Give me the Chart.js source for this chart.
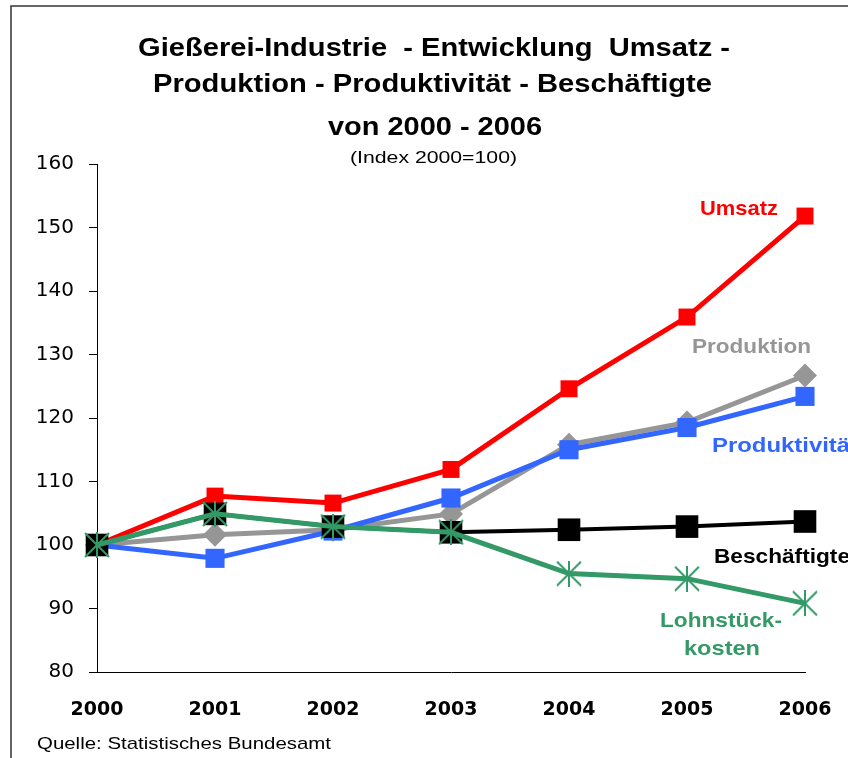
<!DOCTYPE html>
<html>
<head>
<meta charset="utf-8">
<script src="https://cdn.jsdelivr.net/npm/chart.js@4.4.1/dist/chart.umd.min.js"></script>
<style>
  body { margin: 0; background: #fff; }
  canvas { display: block; }
</style>
</head>
<body>
<canvas id="myChart" width="848" height="758"></canvas>
<script>
// data (Index 2000 = 100)
const years = ['2000', '2001', '2002', '2003', '2004', '2005', '2006'];
const umsatz = [100, 107.7, 106.6, 111.9, 124.6, 135.9, 151.8];
const produktion = [100, 101.6, 102.4, 104.9, 115.8, 119.3, 126.7];
const produktivitaet = [100, 97.9, 102.2, 107.4, 115.0, 118.5, 123.4];
const beschaeftigte = [100, 104.9, 102.9, 102.0, 102.4, 102.9, 103.7];
const lohnstueckkosten = [100, 104.9, 102.9, 102.0, 95.5, 94.7, 90.8];
const yMin = 80, yMax = 160, yStep = 10;

const titleLines = [
  'Gießerei-Industrie  - Entwicklung  Umsatz -',
  'Produktion - Produktivität - Beschäftigte',
  'von 2000 - 2006'
];
const subTitle = '(Index 2000=100)';
const source = 'Quelle: Statistisches Bundesamt';

// green asterisk marker
const star = document.createElement('canvas');
star.width = 26; star.height = 26;
const sctx = star.getContext('2d');
sctx.strokeStyle = '#339966';
sctx.lineWidth = 2;
sctx.beginPath();
sctx.moveTo(1, 1); sctx.lineTo(25, 25);
sctx.moveTo(25, 1); sctx.lineTo(1, 25);
sctx.moveTo(13, 0); sctx.lineTo(13, 26);
sctx.stroke();

// draw text squeezed/stretched to a given width
const fitText = (ctx, text, x, y, font, color, width, align) => {
  ctx.save();
  ctx.font = font;
  ctx.fillStyle = color;
  ctx.textBaseline = 'alphabetic';
  ctx.textAlign = 'left';
  let w = ctx.measureText(text).width;
  let sx = width ? width / w : 1;
  let left = align === 'center' ? x - w * sx / 2 : x;
  ctx.translate(left, y);
  ctx.scale(sx, 1);
  ctx.fillText(text, 0, 0);
  ctx.restore();
};

const textPlugin = {
  id: 'texts',
  beforeDraw: (chart) => {
    const ctx = chart.ctx;
    ctx.save();
    ctx.fillStyle = '#fff';
    ctx.fillRect(0, 0, chart.width, chart.height);
    // frame
    ctx.strokeStyle = '#333';
    ctx.lineWidth = 1.5;
    ctx.beginPath();
    ctx.moveTo(11, chart.height);
    ctx.lineTo(11, 6);
    ctx.lineTo(chart.width + 2, 6);
    ctx.stroke();
    ctx.restore();
  },
  afterDraw: (chart) => {
    const ctx = chart.ctx;
    const F = '"Liberation Sans", Arial, sans-serif';
    fitText(ctx, titleLines[0], 434, 56, 'bold 26px ' + F, '#000', 592, 'center');
    fitText(ctx, titleLines[1], 432.5, 92, 'bold 26px ' + F, '#000', 559, 'center');
    fitText(ctx, titleLines[2], 435, 135, 'bold 25px ' + F, '#000', 214, 'center');
    fitText(ctx, subTitle, 433.5, 163, '17px ' + F, '#000', 167, 'center');
    fitText(ctx, source, 37, 749, '17px ' + F, '#000', 294, 'left');

    // series labels
    fitText(ctx, 'Umsatz', 700, 215, 'bold 21px ' + F, '#ff0000', 78, 'left');
    fitText(ctx, 'Produktion', 692, 353, 'bold 21px ' + F, '#969696', 119, 'left');
    fitText(ctx, 'Produktivität', 712, 452, 'bold 21px ' + F, '#3366ff', 146, 'left');
    fitText(ctx, 'Beschäftigte', 714, 563, 'bold 21px ' + F, '#000', 136, 'left');
    fitText(ctx, 'Lohnstück-', 660, 627, 'bold 21px ' + F, '#339966', 122, 'left');
    fitText(ctx, 'kosten', 684, 655, 'bold 21px ' + F, '#339966', 76, 'left');
  }
};

const ctx = document.getElementById('myChart').getContext('2d');
const myChart = new Chart(ctx, {
  type: 'line',
  data: {
    labels: years,
    datasets: [
      {
        label: 'Lohnstückkosten',
        data: lohnstueckkosten,
        borderColor: '#339966',
        borderWidth: 5,
        pointStyle: star,
        clip: false
      },
      {
        label: 'Beschäftigte',
        data: beschaeftigte,
        borderColor: '#000',
        backgroundColor: '#000',
        borderWidth: 4,
        pointStyle: 'rect',
        pointRadius: 16,
        pointBorderWidth: 0,
        clip: false
      },
      {
        label: 'Umsatz',
        data: umsatz,
        borderColor: '#ff0000',
        backgroundColor: '#ff0000',
        borderWidth: 5,
        pointStyle: 'rect',
        pointRadius: 12,
        pointBorderWidth: 0,
        clip: false
      },
      {
        label: 'Produktivität',
        data: produktivitaet,
        borderColor: '#3366ff',
        backgroundColor: '#3366ff',
        borderWidth: 5,
        pointStyle: 'rect',
        pointRadius: 13.5,
        pointBorderWidth: 0,
        clip: false
      },
      {
        label: 'Produktion',
        data: produktion,
        borderColor: '#969696',
        backgroundColor: '#969696',
        borderWidth: 5,
        pointStyle: 'rectRot',
        pointRadius: 12,
        pointBorderWidth: 0,
        clip: false
      }
    ]
  },
  options: {
    responsive: false,
    animation: false,
    layout: { padding: { top: 164, left: 0, right: 43, bottom: 36 } },
    plugins: {
      legend: { display: false },
      tooltip: { enabled: false },
      title: { display: false }
    },
    elements: { line: { tension: 0 } },
    scales: {
      x: {
        offset: false,
        grid: { display: false, drawTicks: false },
        border: { display: true, color: '#000', width: 1 },
        ticks: {
          color: '#000',
          padding: 27,
          font: { family: '"DejaVu Sans", sans-serif', size: 19, weight: 'bold' }
        },
        afterFit: (scale) => {
          scale.height = 50;
          scale.paddingLeft = 0;
          scale.paddingRight = 0;
        }
      },
      y: {
        min: yMin,
        max: yMax,
        grid: { drawOnChartArea: false, drawTicks: true, tickLength: 8, color: '#000' },
        border: { display: true, color: '#000', width: 1 },
        ticks: {
          stepSize: yStep,
          color: '#000',
          padding: 15,
          font: { family: '"DejaVu Sans", sans-serif', size: 20 }
        },
        afterFit: (scale) => { scale.width = 97; }
      }
    }
  },
  plugins: [textPlugin]
});
</script>
</body>
</html>
